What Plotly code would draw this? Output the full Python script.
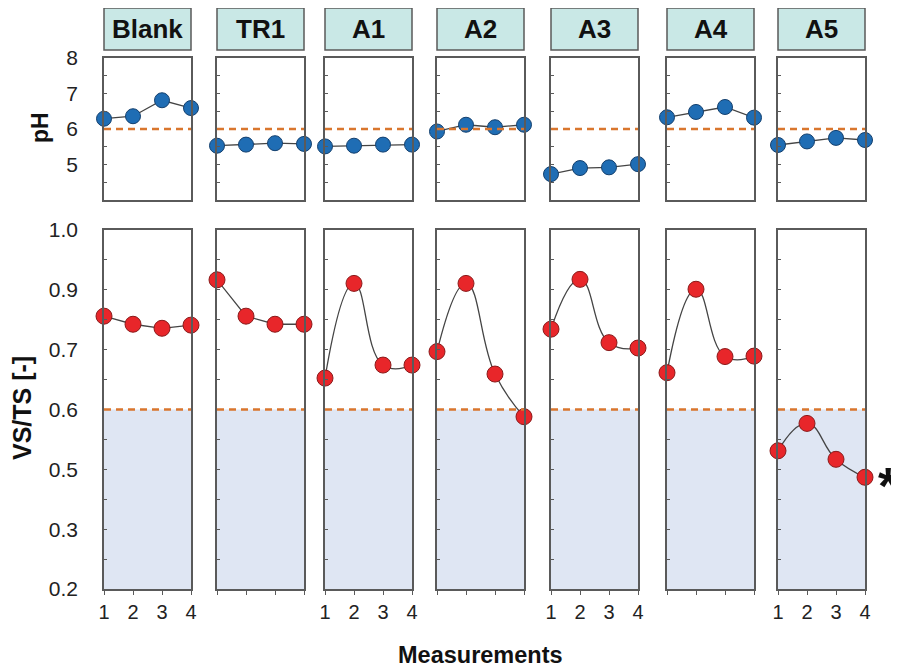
import plotly.graph_objects as go
import numpy as np

# ---------------- data ----------------
groups = ["Blank", "TR1", "A1", "A2", "A3", "A4", "A5"]
measurements = [1, 2, 3, 4]

ph_blank = [6.29, 6.36, 6.81, 6.59]
ph_tr1 = [5.53, 5.56, 5.60, 5.58]
ph_a1 = [5.51, 5.53, 5.56, 5.56]
ph_a2 = [5.93, 6.12, 6.05, 6.12]
ph_a3 = [4.73, 4.90, 4.92, 5.01]
ph_a4 = [6.33, 6.48, 6.62, 6.32]
ph_a5 = [5.55, 5.65, 5.75, 5.69]

vsts_blank = [0.808, 0.790, 0.781, 0.788]
vsts_tr1 = [0.889, 0.808, 0.790, 0.790]
vsts_a1 = [0.670, 0.881, 0.699, 0.699]
vsts_a2 = [0.729, 0.881, 0.679, 0.584]
vsts_a3 = [0.779, 0.890, 0.749, 0.737]
vsts_a4 = [0.682, 0.868, 0.718, 0.719]
vsts_a5 = [0.508, 0.569, 0.489, 0.449]

ph_series = [ph_blank, ph_tr1, ph_a1, ph_a2, ph_a3, ph_a4, ph_a5]
vsts_series = [vsts_blank, vsts_tr1, vsts_a1, vsts_a2, vsts_a3, vsts_a4, vsts_a5]
smooth_flags = [False, False, True, True, True, True, True]

ph_threshold = 6.0
vsts_threshold = 0.6

ph_tick_labels = ["5", "6", "7", "8"]
ph_tick_values = [5, 6, 7, 8]
vsts_tick_labels = ["0.2", "0.3", "0.5", "0.6", "0.7", "0.9", "1.0"]
x_label_panels = [0, 2, 4, 6]

# ---------------- layout constants ----------------
W, H = 899, 668
OFF = 8  # page offset of the plot div inside the browser window


def px_x(v):
    return (v - OFF) / W


def px_y(v):
    return 1 - (v - OFF) / H


panel_left_px = [104, 217, 325, 437, 551, 667, 778]
panel_w_px = 87
top_dom = [px_y(200), px_y(58)]
bot_dom = [px_y(589), px_y(230)]
hdr_y = [px_y(50), px_y(8)]

FONT = "Liberation Sans, Arial, Helvetica, sans-serif"
BORDER = "#5a5a5a"
DASH_COL = "#d9762e"
SHADE = "#dfe6f3"
HDR_FILL = "#c9e8e6"

fig = go.Figure()
layout = {}
shapes = []
annotations = []

vs_range = [0.2, 1.0]
vs_tickvals = list(np.linspace(vs_range[0], vs_range[1], len(vsts_tick_labels)))


def ax_id(n):
    return "" if n == 1 else str(n)


for i, g in enumerate(groups):
    xd = [px_x(panel_left_px[i]), px_x(panel_left_px[i] + panel_w_px)]
    nt = 2 * i + 1
    nb = 2 * i + 2
    xt, yt = f"x{ax_id(nt)}", f"y{ax_id(nt)}"
    xb, yb = f"x{ax_id(nb)}", f"y{ax_id(nb)}"
    xkt, ykt = f"xaxis{ax_id(nt)}", f"yaxis{ax_id(nt)}"
    xkb, ykb = f"xaxis{ax_id(nb)}", f"yaxis{ax_id(nb)}"

    common_x = dict(domain=xd, range=[1, 4], showgrid=False, zeroline=False,
                    showline=True, mirror=True, linecolor=BORDER, linewidth=1.5,
                    automargin=False)
    layout[xkt] = dict(common_x, anchor=yt, showticklabels=False, ticks="")
    layout[xkb] = dict(common_x, anchor=yb, tickvals=measurements,
                       ticktext=[str(m) for m in measurements],
                       showticklabels=(i in x_label_panels),
                       ticks="outside", ticklen=4, tickcolor=BORDER,
                       tickfont=dict(family=FONT, size=20, color="#222"))

    common_y = dict(showgrid=False, zeroline=False, showline=True, mirror=True,
                    linecolor=BORDER, linewidth=1.5, ticks="inside", ticklen=3,
                    tickcolor=BORDER, showticklabels=(i == 0),
                    ticklabelstandoff=20, automargin=False,
                    tickfont=dict(family=FONT, size=21, color="#222"))
    layout[ykt] = dict(common_y, domain=top_dom, anchor=xt, range=[4, 8],
                       tickvals=ph_tick_values, ticktext=ph_tick_labels,
                       minor=dict(dtick=0.5, tick0=4, ticks="inside", ticklen=3,
                                  tickcolor=BORDER))
    layout[ykb] = dict(common_y, domain=bot_dom, anchor=xb, range=vs_range,
                       tickvals=vs_tickvals, ticktext=vsts_tick_labels,
                       minor=dict(dtick=(vs_range[1] - vs_range[0]) / 12,
                                  tick0=vs_range[0], ticks="inside", ticklen=3,
                                  tickcolor=BORDER))

    # shaded region and thresholds
    shapes.append(dict(type="rect", xref=f"{xb} domain", yref=yb, x0=0, x1=1,
                       y0=vs_range[0], y1=vsts_threshold, fillcolor=SHADE,
                       line=dict(width=0), layer="below"))
    shapes.append(dict(type="line", xref=f"{xb} domain", yref=yb, x0=0, x1=1,
                       y0=vsts_threshold, y1=vsts_threshold,
                       line=dict(color=DASH_COL, width=2.5, dash="7px,5px")))
    shapes.append(dict(type="line", xref=f"{xt} domain", yref=yt, x0=0, x1=1,
                       y0=ph_threshold, y1=ph_threshold,
                       line=dict(color=DASH_COL, width=2.5, dash="7px,5px")))
    # header box
    shapes.append(dict(type="rect", xref=f"{xt} domain", yref="paper", x0=0, x1=1,
                       y0=hdr_y[0], y1=hdr_y[1], fillcolor=HDR_FILL,
                       line=dict(color=BORDER, width=1.5)))
    annotations.append(dict(text=f"<b>{g}</b>", xref=f"{xt} domain", yref="paper",
                            x=0.5, y=(hdr_y[0] + hdr_y[1]) / 2, showarrow=False,
                            font=dict(family=FONT, size=26, color="#111"),
                            xanchor="center", yanchor="middle"))

    fig.add_trace(go.Scatter(
        x=measurements, y=ph_series[i], xaxis=xt, yaxis=yt, mode="lines+markers",
        line=dict(color="#444", width=1.3),
        marker=dict(size=15, color="#1f6db4", line=dict(color="#14406e", width=1)),
        cliponaxis=False, showlegend=False))
    fig.add_trace(go.Scatter(
        x=measurements, y=vsts_series[i], xaxis=xb, yaxis=yb, mode="lines+markers",
        line=dict(color="#444", width=1.3,
                  shape="spline" if smooth_flags[i] else "linear", smoothing=1.3),
        marker=dict(size=16, color="#e8262a", line=dict(color="#8a1a1a", width=1)),
        cliponaxis=False, showlegend=False))

annotations += [
    dict(text="<b>pH</b>", xref="paper", yref="paper", x=px_x(40), y=px_y(128),
         textangle=-90, showarrow=False, xanchor="center", yanchor="middle",
         font=dict(family=FONT, size=23, color="#111")),
    dict(text="<b>VS/TS [-]</b>", xref="paper", yref="paper", x=px_x(22), y=px_y(408),
         textangle=-90, showarrow=False, xanchor="center", yanchor="middle",
         font=dict(family=FONT, size=25, color="#111")),
    dict(text="<b>Measurements</b>", xref="paper", yref="paper", x=px_x(480),
         y=px_y(655), showarrow=False, xanchor="center", yanchor="middle",
         font=dict(family=FONT, size=23.5, color="#111")),
    dict(text="<b>*</b>", xref="paper", yref="paper", x=px_x(888), y=px_y(486),
         showarrow=False, font=dict(family=FONT, size=52, color="#111"),
         xanchor="center", yanchor="middle"),
]

fig.update_layout(**layout)
fig.update_layout(width=W, height=H, margin=dict(l=0, r=0, t=0, b=0, pad=0),
                  plot_bgcolor="white", paper_bgcolor="white",
                  shapes=shapes, annotations=annotations, showlegend=False)

fig.write_html("out.html")
